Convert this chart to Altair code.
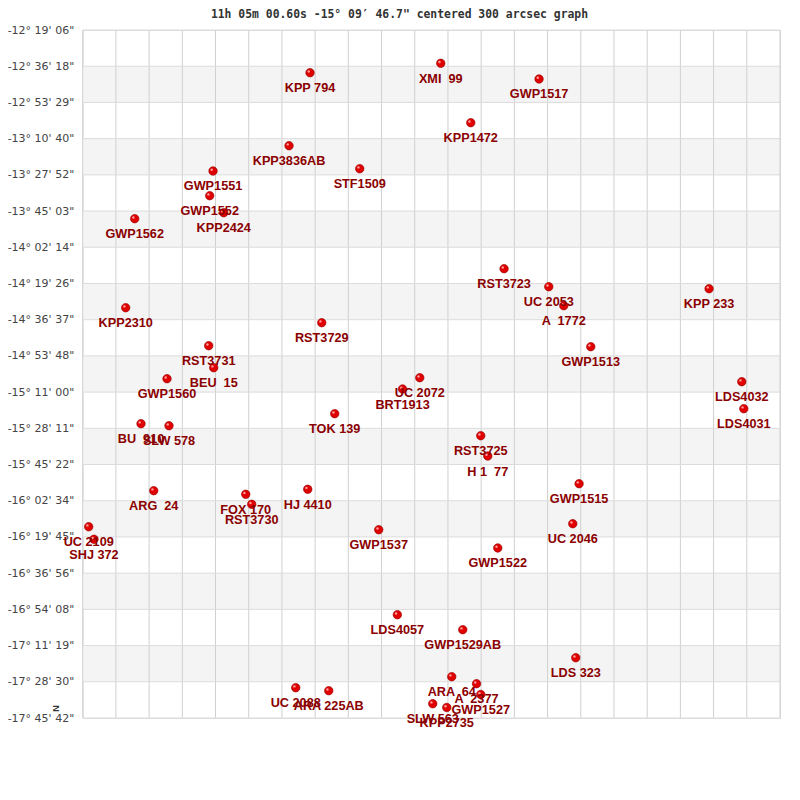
import json
import altair as alt
import pandas as pd

title_text = "11h 05m 00.60s -15° 09′ 46.7\" centered 300 arcsec graph"

dec_tick_labels = [
    "-12° 19' 06\"", "-12° 36' 18\"", "-12° 53' 29\"", "-13° 10' 40\"",
    "-13° 27' 52\"", "-13° 45' 03\"", "-14° 02' 14\"", "-14° 19' 26\"",
    "-14° 36' 37\"", "-14° 53' 48\"", "-15° 11' 00\"", "-15° 28' 11\"",
    "-15° 45' 22\"", "-16° 02' 34\"", "-16° 19' 45\"", "-16° 36' 56\"",
    "-16° 54' 08\"", "-17° 11' 19\"", "-17° 28' 30\"", "-17° 45' 42\"",
]

ra_grid_lines = list(range(22))

star_names = [
    "KPP 794", "KPP3836AB", "STF1509", "GWP1551", "GWP1552", "KPP2424", "GWP1562",
    "XMI  99", "GWP1517", "KPP1472", "KPP2310", "RST3729", "RST3731", "BEU  15",
    "GWP1560", "TOK 139", "BU  910", "SLW 578", "ARG  24", "FOX 170", "RST3730",
    "HJ 4410", "RST3723", "UC 2053", "A  1772", "KPP 233", "GWP1513", "UC 2072",
    "BRT1913", "LDS4032", "LDS4031", "RST3725", "H 1  77", "GWP1515", "UC 2109",
    "SHJ 372", "GWP1537", "LDS4057", "UC 2088", "ARA 225AB", "UC 2046", "GWP1522",
    "GWP1529AB", "LDS 323", "ARA  64", "A  2377", "GWP1527", "SLW 563", "KPP2735",
]
star_ra_grid = [
    6.846, 6.214, 8.343, 3.925, 3.825, 4.247, 1.566,
    10.783, 13.744, 11.687, 1.295, 7.199, 3.795, 3.946,
    2.539, 7.590, 1.756, 2.599, 2.139, 4.910, 5.090,
    6.777, 12.690, 14.036, 14.488, 18.864, 15.301, 10.151,
    9.633, 19.849, 19.910, 11.988, 12.199, 14.949, 0.181,
    0.340, 8.916, 9.476, 6.416, 7.410, 14.759, 12.500,
    11.446, 14.849, 11.114, 11.861, 11.988, 10.542, 10.964,
]
star_dec_deg = [
    -12.6562, -13.2337, -13.4157, -13.4339, -13.6293, -13.7638, -13.8113,
    -12.5818, -12.7060, -13.0518, -14.5154, -14.6341, -14.8161, -14.9901,
    -15.0772, -15.3541, -15.4332, -15.4490, -15.9633, -15.9918, -16.0709,
    -15.9522, -14.2069, -14.3493, -14.4996, -14.3651, -14.8240, -15.0693,
    -15.1587, -15.1009, -15.3145, -15.5282, -15.6888, -15.9079, -16.2481,
    -16.3478, -16.2719, -16.9444, -17.5219, -17.5457, -16.2244, -16.4166,
    -17.0630, -17.2846, -17.4349, -17.4903, -17.5757, -17.6485, -17.6786,
]


def dms_to_deg(s):
    neg = s.strip().startswith("-")
    s = s.replace("-", " ").replace("°", " ").replace("'", " ").replace('"', " ")
    d, m, sec = [float(p) for p in s.split()]
    v = d + m / 60 + sec / 3600
    return -v if neg else v


tick_vals = [dms_to_deg(t) for t in dec_tick_labels]
top, bottom = tick_vals[0], tick_vals[-1]
step = (top - bottom) / (len(tick_vals) - 1)

stars = pd.DataFrame({
    "name": [n.replace("  ", " \u00a0") for n in star_names],
    "ra": star_ra_grid,
    "dec": star_dec_deg,
})
bands = pd.DataFrame(
    [{"y": tick_vals[i], "y2": tick_vals[i + 1]} for i in range(1, len(tick_vals) - 1, 2)]
)
hgrid = pd.DataFrame({"dec": tick_vals})
vgrid = pd.DataFrame({"ra": ra_grid_lines})
title_df = pd.DataFrame({"t": [title_text]})

label_expr = "%s[round((%r - datum.value) / %r)]" % (
    json.dumps(dec_tick_labels, ensure_ascii=False), top, step
)

xs = alt.Scale(domain=[0, 21], nice=False, zero=False)
ys = alt.Scale(domain=[bottom, top], nice=False, zero=False)

x_axis = alt.Axis(labels=False, ticks=False, domain=False, grid=False, title=None)
y_axis = alt.Axis(
    values=tick_vals, labelExpr=label_expr, ticks=False, domain=False, grid=False,
    labelOverlap=False, labelFlush=False, labelBound=False,
    labelFont="DejaVu Sans", labelFontSize=11, labelColor="#444444", labelPadding=9,
    title="N", titleAngle=270, titleX=-27, titleY=678, titleFontSize=9,
    titleFontWeight="bold", titleColor="#333333", titleAlign="center", titleBaseline="middle",
)

band_layer = alt.Chart(bands).mark_rect(color="#f4f4f4").encode(
    y=alt.Y("y:Q", scale=ys, axis=y_axis),
    y2="y2:Q",
    x=alt.value(0),
    x2=alt.value(697.3),
)

vrule = alt.Chart(vgrid).mark_rule(color="#d0d0d0", strokeWidth=1).encode(
    x=alt.X("ra:Q", scale=xs, axis=x_axis)
)
hrule = alt.Chart(hgrid).mark_rule(color="#dcdcdc", strokeWidth=1).encode(
    y=alt.Y("dec:Q", scale=ys, axis=y_axis)
)

base = alt.Chart(stars).encode(
    x=alt.X("ra:Q", scale=xs, axis=x_axis),
    y=alt.Y("dec:Q", scale=ys, axis=y_axis),
)
dots = base.mark_circle(size=72, color="#e00000", opacity=1, stroke="#900000", strokeWidth=0.6)
shine = base.mark_circle(size=6, color="#ff9c9c", opacity=1, xOffset=-1.3, yOffset=-1.3)
labels = base.mark_text(
    dy=15.5, font="Liberation Sans", fontSize=12.7, fontWeight="bold",
    color="#8b0000", align="center", baseline="middle",
).encode(text="name:N")

title_layer = alt.Chart(title_df).mark_text(
    font="DejaVu Sans Mono", fontSize=11.4, fontWeight="bold", color="#333333",
    align="center", baseline="middle",
).encode(text="t:N", x=alt.value(316.8), y=alt.value(-15))

chart = alt.layer(band_layer, vrule, hrule, dots, shine, labels, title_layer).properties(
    width=697.3,
    height=688,
    autosize=alt.AutoSizeParams(type="none"),
    padding={"left": 74.7, "top": 22, "right": 12, "bottom": 60},
).configure_view(stroke="#cccccc", strokeWidth=1).configure_axis(
    labelOverlap=False
).configure(background="white")

chart.save("out.html", embed_options={"renderer": "svg", "actions": False})
